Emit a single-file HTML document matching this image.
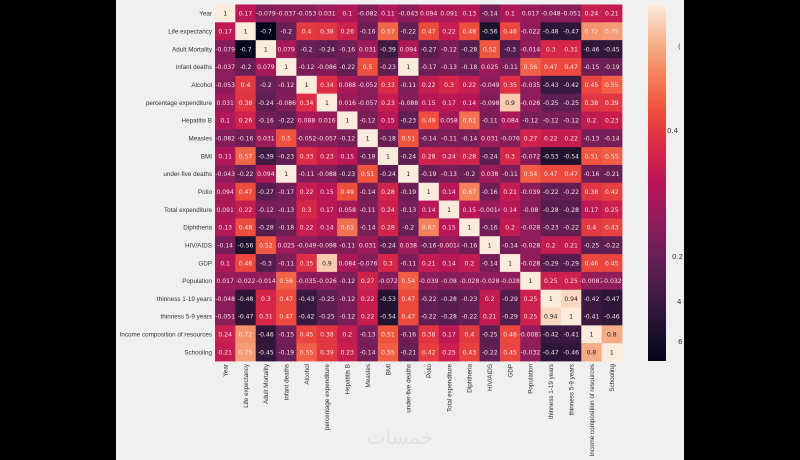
<!DOCTYPE html>
<html><head><meta charset="utf-8"><style>
body{margin:0;width:800px;height:460px;overflow:hidden;background:#000;}
svg{display:block;font-family:"DejaVu Sans","Liberation Sans",sans-serif;}
</style></head><body>
<svg id="chart" width="800" height="460">
<rect x="116" y="0" width="568" height="460" fill="#f0f0f0"/>
<defs><linearGradient id="cb" x1="0" y1="1" x2="0" y2="0">
<stop offset="0" stop-color="#03051a"/><stop offset="0.1" stop-color="#221331"/><stop offset="0.2" stop-color="#451c47"/><stop offset="0.3" stop-color="#6a1f56"/><stop offset="0.4" stop-color="#921c5b"/><stop offset="0.5" stop-color="#b91657"/><stop offset="0.6" stop-color="#d92847"/><stop offset="0.7" stop-color="#ef4e3c"/><stop offset="0.8" stop-color="#f47f58"/><stop offset="0.9" stop-color="#f6b48e"/><stop offset="1" stop-color="#faebdd"/>
</linearGradient></defs>
<rect x="648" y="5" width="18" height="356" fill="url(#cb)"/>
<g font-size="7" fill="#333">
<text x="678" y="49">(</text>
<text x="667" y="133">0.4</text>
<text x="672" y="259">0.2</text>
<text x="677" y="304">4</text>
<text x="678" y="344">6</text>
</g>
<text x="400" y="444" font-size="20" fill="#e2e2e2" text-anchor="middle" font-family="'DejaVu Sans',sans-serif">خمسات</text>
<g id="cells"></g>
</svg>
<script>
const labels=["Year","Life expectancy","Adult Mortality","infant deaths","Alcohol","percentage expenditure","Hepatitis B","Measles","BMI","under-five deaths","Polio","Total expenditure","Diphtheria","HIV/AIDS","GDP","Population","thinness  1-19 years","thinness 5-9 years","Income composition of resources","Schooling"];
const r0=[1,0.17,-0.079,-0.037,-0.053,0.031,0.1,-0.082,0.11,-0.043,0.094,0.091,0.13,-0.14,0.1,0.017,-0.048,-0.051,0.24,0.21];
const r1=[0.17,1,-0.7,-0.2,0.4,0.38,0.26,-0.16,0.57,-0.22,0.47,0.22,0.48,-0.56,0.46,-0.022,-0.48,-0.47,0.72,0.75];
const r2=[-0.079,-0.7,1,0.079,-0.2,-0.24,-0.16,0.031,-0.39,0.094,-0.27,-0.12,-0.28,0.52,-0.3,-0.014,0.3,0.31,-0.46,-0.45];
const r3=[-0.037,-0.2,0.079,1,-0.12,-0.086,-0.22,0.5,-0.23,1,-0.17,-0.13,-0.18,0.025,-0.11,0.56,0.47,0.47,-0.15,-0.19];
const r4=[-0.053,0.4,-0.2,-0.12,1,0.34,0.088,-0.052,0.33,-0.11,0.22,0.3,0.22,-0.049,0.35,-0.035,-0.43,-0.42,0.45,0.55];
const r5=[0.031,0.38,-0.24,-0.086,0.34,1,0.016,-0.057,0.23,-0.088,0.15,0.17,0.14,-0.098,0.9,-0.026,-0.25,-0.25,0.38,0.39];
const r6=[0.1,0.26,-0.16,-0.22,0.088,0.016,1,-0.12,0.15,-0.23,0.49,0.058,0.61,-0.11,0.084,-0.12,-0.12,-0.12,0.2,0.23];
const r7=[-0.082,-0.16,0.031,0.5,-0.052,-0.057,-0.12,1,-0.18,0.51,-0.14,-0.11,-0.14,0.031,-0.076,0.27,0.22,0.22,-0.13,-0.14];
const r8=[0.11,0.57,-0.39,-0.23,0.33,0.23,0.15,-0.18,1,-0.24,0.28,0.24,0.28,-0.24,0.3,-0.072,-0.53,-0.54,0.51,0.55];
const r9=[-0.043,-0.22,0.094,1,-0.11,-0.088,-0.23,0.51,-0.24,1,-0.19,-0.13,-0.2,0.038,-0.11,0.54,0.47,0.47,-0.16,-0.21];
const r10=[0.094,0.47,-0.27,-0.17,0.22,0.15,0.49,-0.14,0.28,-0.19,1,0.14,0.67,-0.16,0.21,-0.039,-0.22,-0.22,0.38,0.42];
const r11=[0.091,0.22,-0.12,-0.13,0.3,0.17,0.058,-0.11,0.24,-0.13,0.14,1,0.15,-0.0014,0.14,-0.08,-0.28,-0.28,0.17,0.25];
const r12=[0.13,0.48,-0.28,-0.18,0.22,0.14,0.61,-0.14,0.28,-0.2,0.67,0.15,1,-0.16,0.2,-0.028,-0.23,-0.22,0.4,0.43];
const r13=[-0.14,-0.56,0.52,0.025,-0.049,-0.098,-0.11,0.031,-0.24,0.038,-0.16,-0.0014,-0.16,1,-0.14,-0.028,0.2,0.21,-0.25,-0.22];
const r14=[0.1,0.46,-0.3,-0.11,0.35,0.9,0.084,-0.076,0.3,-0.11,0.21,0.14,0.2,-0.14,1,-0.028,-0.29,-0.29,0.46,0.45];
const r15=[0.017,-0.022,-0.014,0.56,-0.035,-0.026,-0.12,0.27,-0.072,0.54,-0.039,-0.08,-0.028,-0.028,-0.028,1,0.25,0.25,-0.0087,-0.032];
const r16=[-0.048,-0.48,0.3,0.47,-0.43,-0.25,-0.12,0.22,-0.53,0.47,-0.22,-0.28,-0.23,0.2,-0.29,0.25,1,0.94,-0.42,-0.47];
const r17=[-0.051,-0.47,0.31,0.47,-0.42,-0.25,-0.12,0.22,-0.54,0.47,-0.22,-0.28,-0.22,0.21,-0.29,0.25,0.94,1,-0.41,-0.46];
const r18=[0.24,0.72,-0.46,-0.15,0.45,0.38,0.2,-0.13,0.51,-0.16,0.38,0.17,0.4,-0.25,0.46,-0.0087,-0.42,-0.41,1,0.8];
const r19=[0.21,0.75,-0.45,-0.19,0.55,0.39,0.23,-0.14,0.55,-0.21,0.42,0.25,0.43,-0.22,0.45,-0.032,-0.47,-0.46,0.8,1];
const matrix=[r0,r1,r2,r3,r4,r5,r6,r7,r8,r9,r10,r11,r12,r13,r14,r15,r16,r17,r18,r19];
const vmin=-0.7,vmax=1;
const X0=215,X1=622,Y0=4.5,Y1=361;
const n=labels.length,cw=(X1-X0)/n,ch=(Y1-Y0)/n;
const xs=i=>X0+i*cw, ys=j=>Y0+j*ch;
const stops=[[3,5,26],[34,19,49],[69,28,71],[106,31,86],[146,28,91],[185,22,87],[217,40,71],[239,78,60],[244,127,88],[246,180,142],[250,235,221]];
function color(v){let t=Math.max(0,Math.min(1,(v-vmin)/(vmax-vmin)))*(stops.length-1);let i=Math.min(Math.floor(t),stops.length-2),f=t-i;const a=stops[i],b=stops[i+1];return `rgb(${a.map((c,k)=>Math.round(c+(b[k]-c)*f)).join(',')})`;}
const NS="http://www.w3.org/2000/svg",g=document.getElementById('cells');
function mk(tag,attrs){const e=document.createElementNS(NS,tag);for(const k in attrs)e.setAttribute(k,attrs[k]);g.appendChild(e);return e;}
matrix.forEach((row,j)=>row.forEach((v,i)=>{
 const r=mk('rect',{x:xs(i),y:ys(j),width:cw+0.4,height:ch+0.4,fill:color(v)});
 
 
 const t=mk('text',{x:xs(i)+cw/2,y:ys(j)+ch/2+2.3,'font-size':'6.1','text-anchor':'middle',fill:v>0.78?'#222':'#f4e6e6'});
 t.textContent=String(v);
 
 
}));
labels.forEach((l,j)=>{
 const t=mk('text',{x:X0-3,y:ys(j)+ch/2+2.3,'font-size':'6.3','font-family':'Liberation Sans, sans-serif','text-anchor':'end',fill:'#333'});
 t.textContent=l;
 
 
 const cx=xs(j)+cw/2+2.3;
 const u=mk('text',{x:0,y:0,'font-size':'6.3','font-family':'Liberation Sans, sans-serif','text-anchor':'end',fill:'#333',transform:`translate(${cx},${Y1+3}) rotate(-90)`});
 u.textContent=l;
 
 
});
</script>
</body></html>
